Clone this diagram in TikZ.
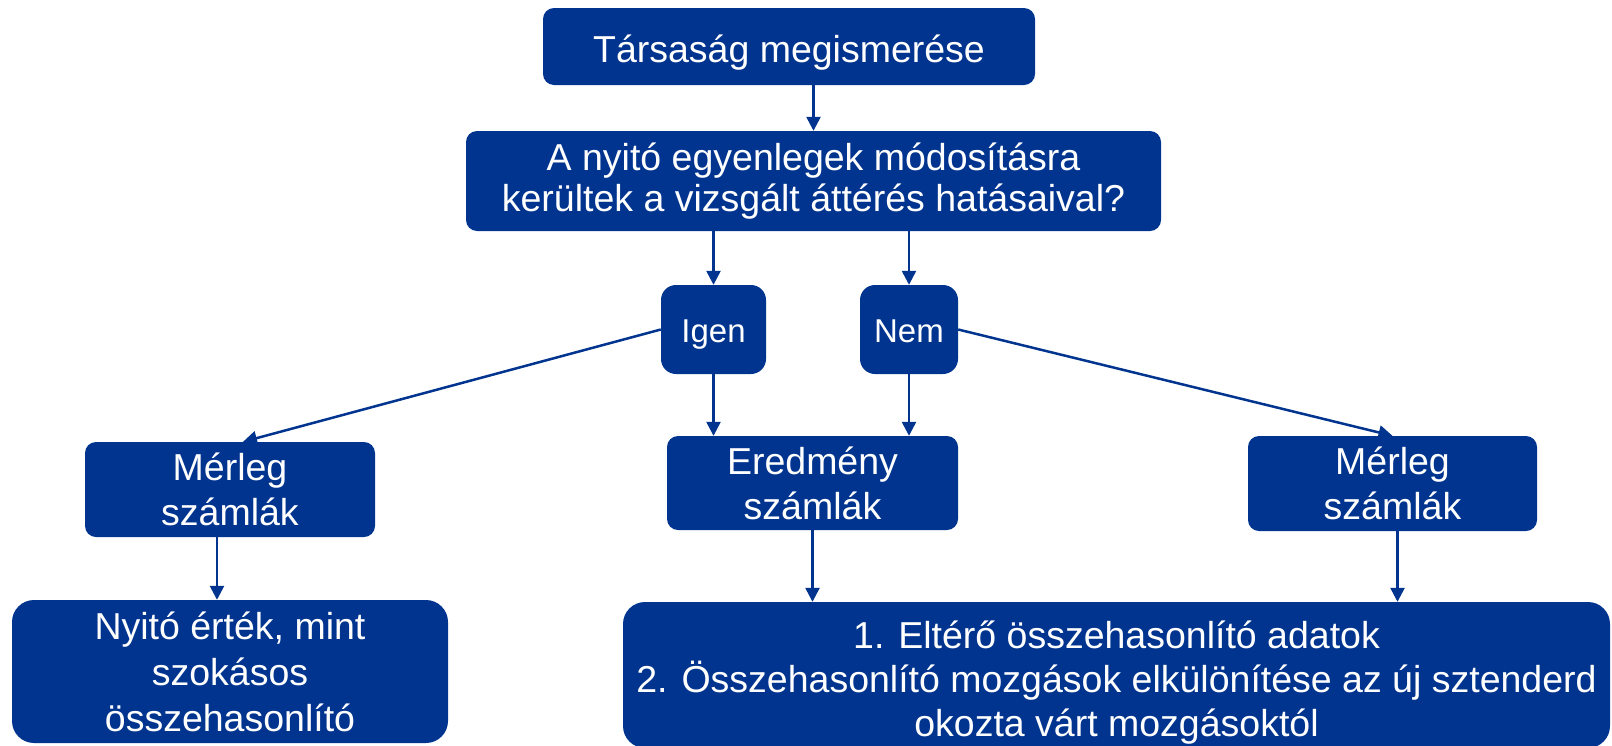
\documentclass[tikz,border=0pt]{standalone}
\usepackage{fontspec}
\setmainfont{Liberation Sans}
\usetikzlibrary{arrows.meta,calc}
\definecolor{boxblue}{RGB}{0,52,143}
\tikzset{
  box/.style={draw=none, fill=boxblue, text=white, align=center, inner sep=0pt,
    rounded corners=11pt, font=\fontsize{37.5}{45}\selectfont},
  smallbox/.style={box, rounded corners=15pt, font=\fontsize{33}{36}\selectfont,
    text height=25pt, text depth=0pt},
  conn/.style={draw=boxblue, line width=2.5pt, -{Triangle[width=14pt,length=14pt]}},
}
\begin{document}
\begin{tikzpicture}[x=1pt,y=-1pt]
\useasboundingbox (0,0) rectangle (1612,745);
\clip (0,0) rectangle (1612,745);
\node[box, minimum width=492pt, minimum height=77pt, text height=31pt, text depth=0pt] (top) at (789,46.5) {Társaság megismerése};
\node[box, minimum width=695pt, minimum height=100pt, font=\fontsize{37.5}{41}\selectfont] (q) at (813.5,181)
  {A nyitó egyenlegek módosításra\\kerültek a vizsgált áttérés hatásaival?};
\node[smallbox, minimum width=105pt, minimum height=89pt] (igen) at (713.5,329.5) {Igen};
\node[smallbox, minimum width=98pt, minimum height=89pt] (nem) at (909,329.5) {Nem};
\node[box, minimum width=290pt, minimum height=95pt] (ml) at (230,489.5) {Mérleg\\számlák};
\node[box, minimum width=291pt, minimum height=94pt] (er) at (812.5,483) {Eredmény\\számlák};
\node[box, minimum width=289pt, minimum height=95pt] (mr) at (1392.5,483.5) {Mérleg\\számlák};
\node[box, rounded corners=22pt, minimum width=436pt, minimum height=143pt, font=\fontsize{37.5}{46}\selectfont] (bl) at (230,671.5)
  {Nyitó érték, mint\\szokásos\\összehasonlító};
\node[box, rounded corners=22pt, minimum width=987pt, minimum height=146pt, font=\fontsize{37.5}{44}\selectfont] (br) at (1116.5,675)
  {\rule{0pt}{42pt}1. Eltérő összehasonlító adatok\\2. Összehasonlító mozgások elkülönítése az új sztenderd\\okozta várt mozgásoktól};
\draw[conn] (top.south -| q.north) -- (q.north);
\draw[conn] (q.south -| igen.north) -- (igen.north);
\draw[conn] (q.south -| nem.north) -- (nem.north);
\draw[conn] (igen.south) -- (igen.south |- er.north);
\draw[conn] (nem.south) -- (nem.south |- er.north);
\draw[conn] (igen.west) -- ($(ml.north)+(13,0)$);
\draw[conn] (nem.east) -- (mr.north);
\draw[conn] ([xshift=-13pt]ml.south) -- ([xshift=-13pt]ml.south |- bl.north);
\draw[conn] (er.south) -- (er.south |- br.north);
\draw[conn] ([xshift=5pt]mr.south) -- ([xshift=5pt]mr.south |- br.north);
\end{tikzpicture}
\end{document}
